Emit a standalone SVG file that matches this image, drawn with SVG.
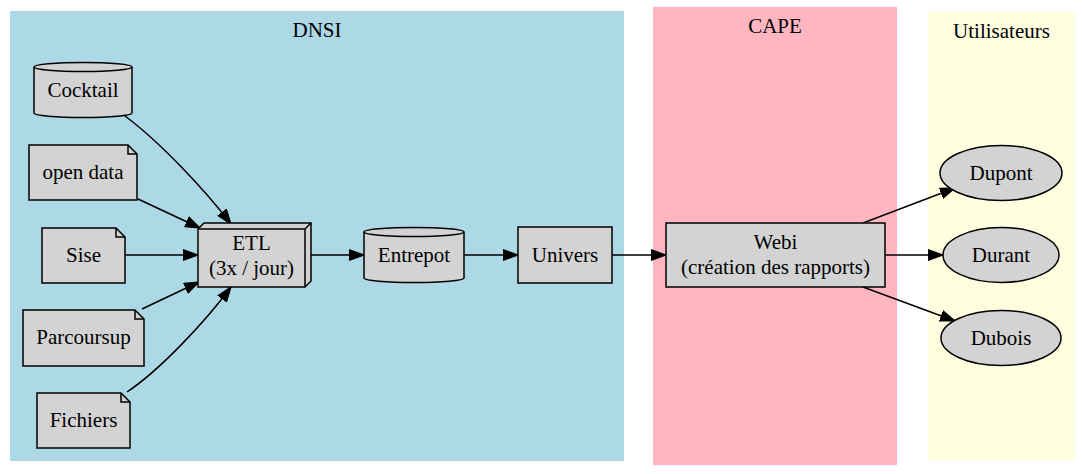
<svg xmlns="http://www.w3.org/2000/svg" width="1082" height="474" viewBox="0 0 1082 474">
<style>
text{font-family:"Liberation Serif","Times New Roman",serif;font-size:21px;fill:#000;text-anchor:middle}
.n{fill:#d3d3d3;stroke:#000;stroke-width:1.5}
.f{fill:none;stroke:#000;stroke-width:1.5}
.e{fill:none;stroke:#000;stroke-width:1.5;marker-end:url(#ah)}
</style>
<defs>
<marker id="ah" markerUnits="userSpaceOnUse" viewBox="0 0 16 12" refX="15" refY="6" markerWidth="16" markerHeight="12" orient="auto">
<path d="M0.5,0.75 L15,6 L0.5,11.25 Z" fill="#000" stroke="#000" stroke-width="1.2"/>
</marker>
</defs>
<rect width="1082" height="474" fill="#fff"/>
<g id="cluster_dnsi">
<rect x="10" y="11" width="614" height="450" fill="#add8e6"/>
<text x="317" y="37">DNSI</text>
</g>
<g id="cluster_cape">
<rect x="653" y="7" width="244" height="458" fill="#ffb6c1"/>
<text x="775" y="33">CAPE</text>
</g>
<g id="cluster_users">
<rect x="928" y="12" width="147" height="448" fill="#ffffe0"/>
<text x="1001.5" y="38">Utilisateurs</text>
</g>
<g id="edges">
<path class="e" d="M125,116 C160,142 205,190 231,224"/>
<path class="e" d="M138,199 L200,228"/>
<path class="e" d="M125,255 L198,255"/>
<path class="e" d="M142,309 L199,282"/>
<path class="e" d="M127,392 C160,370 205,322 231,287"/>
<path class="e" d="M311,255 L364,255"/>
<path class="e" d="M464,255 L518,255"/>
<path class="e" d="M612,255 L666,255"/>
<path class="e" d="M863,223 L955,188"/>
<path class="e" d="M885,255 L943,255"/>
<path class="e" d="M863,287 L955,321"/>
</g>
<g id="cocktail">
<path class="n" d="M34,67 A49,4.5 0 0 1 132,67 L132,113 A49,4.5 0 0 1 34,113 Z"/>
<path class="f" d="M132,67 A49,4.5 0 0 1 34,67"/>
<text x="83" y="96.5">Cocktail</text>
</g>
<g id="opendata">
<path class="n" d="M29,145 L128,145 L137,154 L137,200 L29,200 Z"/>
<path class="f" d="M128,145 L128,154 L137,154"/>
<text x="83" y="178.5">open data</text>
</g>
<g id="sise">
<path class="n" d="M42,228 L116,228 L125,237 L125,283 L42,283 Z"/>
<path class="f" d="M116,228 L116,237 L125,237"/>
<text x="83.5" y="261.5">Sise</text>
</g>
<g id="parcoursup">
<path class="n" d="M23,310 L135,310 L144,319 L144,366 L23,366 Z"/>
<path class="f" d="M135,310 L135,319 L144,319"/>
<text x="83.5" y="343.5">Parcoursup</text>
</g>
<g id="fichiers">
<path class="n" d="M37,393 L121,393 L130,402 L130,448 L37,448 Z"/>
<path class="f" d="M121,393 L121,402 L130,402"/>
<text x="83.5" y="426.5">Fichiers</text>
</g>
<g id="etl">
<path class="n" d="M198,229 L204,223 L311,223 L311,281 L305,287 L198,287 Z"/>
<path class="f" d="M198,229 L305,229 L305,287 M305,229 L311,223"/>
<text x="251.5" y="249.5">ETL</text>
<text x="251.5" y="275">(3x / jour)</text>
</g>
<g id="entrepot">
<path class="n" d="M364,232 A50,4.5 0 0 1 464,232 L464,278 A50,4.5 0 0 1 364,278 Z"/>
<path class="f" d="M464,232 A50,4.5 0 0 1 364,232"/>
<text x="414" y="261.5">Entrepot</text>
</g>
<g id="univers">
<rect class="n" x="518" y="227" width="94" height="56"/>
<text x="565" y="261.5">Univers</text>
</g>
<g id="webi">
<rect class="n" x="666" y="223" width="219" height="64"/>
<text x="775.5" y="248.5">Webi</text>
<text x="775.5" y="274">(création des rapports)</text>
</g>
<g id="dupont">
<ellipse class="n" cx="1001" cy="173" rx="61" ry="27.5"/>
<text x="1001" y="179.5">Dupont</text>
</g>
<g id="durant">
<ellipse class="n" cx="1001" cy="255" rx="58" ry="27.5"/>
<text x="1001" y="261.5">Durant</text>
</g>
<g id="dubois">
<ellipse class="n" cx="1001" cy="338" rx="60" ry="27.5"/>
<text x="1001" y="344.5">Dubois</text>
</g>
</svg>
